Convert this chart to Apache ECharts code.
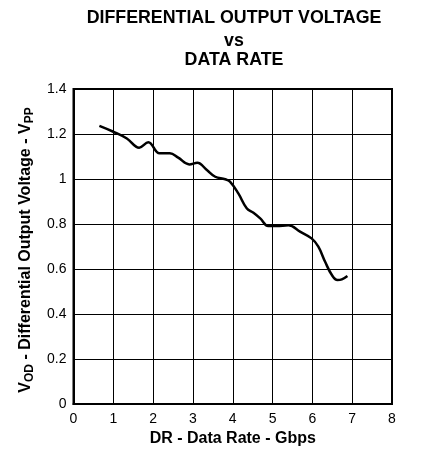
<!DOCTYPE html>
<html>
<head>
<meta charset="utf-8">
<script src="https://cdn.jsdelivr.net/npm/echarts@6/dist/echarts.min.js"></script>
<style>html,body{margin:0;padding:0;background:#fff;}#c{width:424px;height:453px;}</style>
</head>
<body>
<div id="c"></div>
<script>
var dataRate = [0.65, 1.0, 1.34, 1.65, 1.88, 2.16, 2.42, 2.63, 2.91, 3.11, 3.35, 3.56, 3.81, 3.93, 4.14, 4.35, 4.52, 4.69, 4.89, 5.1, 5.4, 5.69, 5.98, 6.15, 6.32, 6.49, 6.63, 6.74, 6.88];
var vod = [1.236, 1.21, 1.18, 1.139, 1.163, 1.114, 1.114, 1.095, 1.065, 1.072, 1.04, 1.01, 0.999, 0.988, 0.936, 0.87, 0.85, 0.825, 0.791, 0.791, 0.794, 0.766, 0.736, 0.699, 0.632, 0.573, 0.551, 0.554, 0.569];
var xTicks = ['0','1','2','3','4','5','6','7','8'];
var yTicks = ['0','0.2','0.4','0.6','0.8','1','1.2','1.4'];
var titleLines = ['DIFFERENTIAL OUTPUT VOLTAGE', 'vs', 'DATA RATE'];

var chart = echarts.init(document.getElementById('c'), null, {renderer: 'canvas'});
var pts = dataRate.map(function (x, i) { return [x, vod[i]]; });
var F = 'Liberation Sans, Arial, sans-serif';
var titleTops = [9, 32, 51];
chart.setOption({
  animation: false,
  backgroundColor: '#fff',
  title: titleLines.map(function (t, i) {
    return {
      text: t, left: 234, top: titleTops[i], textAlign: 'center', padding: 0,
      textStyle: { fontFamily: F, fontWeight: 'bold', fontSize: 17.8, color: '#000' }
    };
  }),
  grid: { left: 73.5, right: 32, top: 89, bottom: 49, show: true, borderColor: '#000', borderWidth: 2, containLabel: false },
  xAxis: {
    type: 'value', min: 0, max: 8, interval: 1,
    name: 'DR - Data Rate - Gbps', nameLocation: 'middle', nameGap: 26,
    nameTextStyle: { fontFamily: F, fontWeight: 'bold', fontSize: 16, color: '#000' },
    axisLine: { show: true, lineStyle: { color: '#000', width: 2 } },
    axisTick: { show: false },
    axisLabel: { margin: 8, fontFamily: F, fontSize: 14, color: '#000',
      formatter: function (v) { return xTicks[Math.round(v)]; } },
    splitLine: { show: true, lineStyle: { color: '#000', width: 1 } }
  },
  yAxis: {
    type: 'value', min: 0, max: 1.4, interval: 0.2,
    name: '{m|V}{s|OD}{m| - Differential Output Voltage - V}{s|PP}',
    nameLocation: 'middle', nameGap: 37, nameRotate: 90,
    nameTextStyle: {
      fontFamily: F, fontWeight: 'bold', fontSize: 16, color: '#000', padding: [0, 7, 0, 0],
      rich: {
        m: { fontFamily: F, fontWeight: 'bold', fontSize: 16, color: '#000', lineHeight: 22, verticalAlign: 'middle' },
        s: { fontFamily: F, fontWeight: 'bold', fontSize: 12, color: '#000', lineHeight: 12, verticalAlign: 'bottom' }
      }
    },
    axisLine: { show: true, lineStyle: { color: '#000', width: 2 } },
    axisTick: { show: false },
    axisLabel: { margin: 7, fontFamily: F, fontSize: 14, color: '#000',
      formatter: function (v) { return yTicks[Math.round(v / 0.2)]; } },
    splitLine: { show: true, lineStyle: { color: '#000', width: 1 } }
  },
  series: [{
    type: 'line', data: pts, smooth: 0.4, symbol: 'none',
    lineStyle: { color: '#000', width: 2.5 }
  }]
});
</script>
</body>
</html>
